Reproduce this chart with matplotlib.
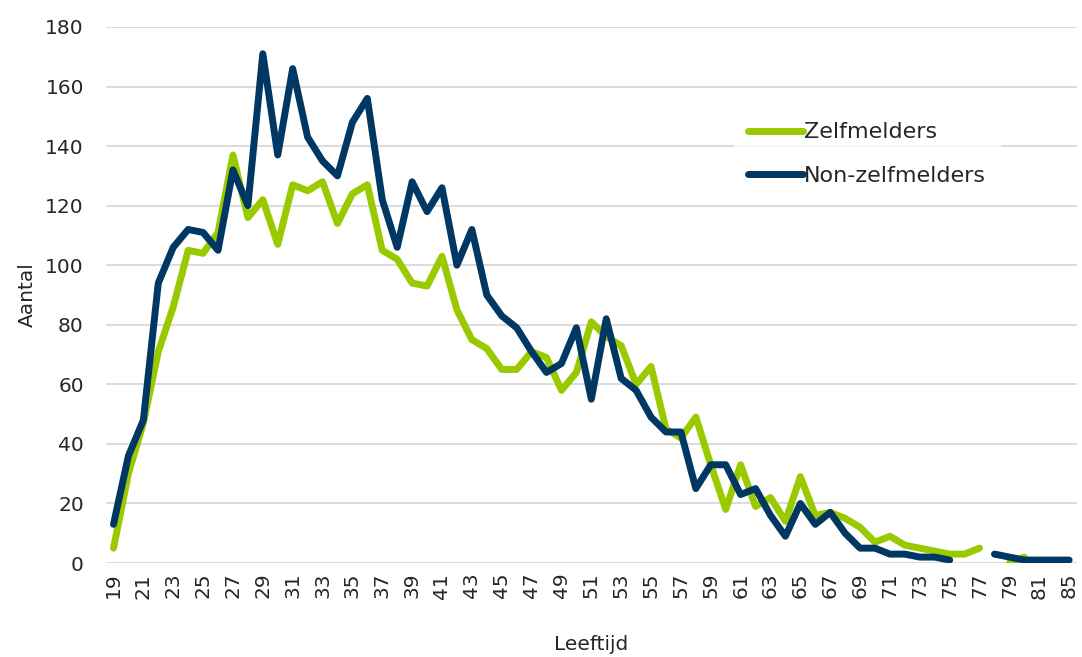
import numpy as np
import matplotlib
matplotlib.use("Agg")
import matplotlib.pyplot as plt

nan = np.nan

# leeftijden (categorie-as), 83 en 84 ontbreken
ages = list(range(19, 83)) + [85]

zelfmelders = [5, 30, 47, 71, 86, 105, 104, 111, 137, 116,
               122, 107, 127, 125, 128, 114, 124, 127, 105, 102,
               94, 93, 103, 85, 75, 72, 65, 65, 71, 69,
               58, 64, 81, 76, 73, 60, 66, 45, 42, 49,
               33, 18, 33, 19, 22, 14, 29, 16, 17, 15,
               12, 7, 9, 6, 5, 4, 3, 3, 5, nan,
               0, 2, nan, nan, nan]

non_zelfmelders = [13, 36, 48, 94, 106, 112, 111, 105, 132, 120,
                   171, 137, 166, 143, 135, 130, 148, 156, 122, 106,
                   128, 118, 126, 100, 112, 90, 83, 79, 71, 64,
                   67, 79, 55, 82, 62, 58, 49, 44, 44, 25,
                   33, 33, 23, 25, 16, 9, 20, 13, 17, 10,
                   5, 5, 3, 3, 2, 2, 1, nan, nan, 3,
                   2, 1, 1, 1, 1]

green = "#99CA00"
blue = "#003863"
txt = "#262626"
fs = 14.5

fig = plt.figure(figsize=(10.82, 6.57), dpi=100)
ax = fig.add_axes([0.098, 0.143, 0.897, 0.816])

x = np.arange(len(ages))
ax.plot(x, zelfmelders, color=green, lw=5, label="Zelfmelders",
        solid_capstyle="round", solid_joinstyle="round", zorder=3)
ax.plot(x, non_zelfmelders, color=blue, lw=5, label="Non-zelfmelders",
        solid_capstyle="round", solid_joinstyle="round", zorder=4)

ax.set_xlim(-0.5, len(ages) - 0.5)
ax.set_ylim(0, 180)
ax.set_yticks(range(0, 181, 20))
ax.set_xticks(x[::2])
ax.set_xticklabels([str(a) for a in ages[::2]], rotation=90)

ax.grid(axis="y", color="#D9D9D9", lw=1.3, zorder=0)
ax.set_axisbelow(True)
for s in ax.spines.values():
    s.set_visible(False)
ax.tick_params(length=0, labelsize=fs, labelcolor=txt)
ax.tick_params(axis="y", pad=16)
ax.tick_params(axis="x", pad=7)

ax.set_ylabel("Aantal", fontsize=fs, color=txt, labelpad=6)
ax.set_xlabel("Leeftijd", fontsize=fs, color=txt, labelpad=26)

leg = ax.legend(loc="center", bbox_to_anchor=(0.784, 0.763), frameon=True,
                fontsize=16, handlelength=2.5, handletextpad=0.05,
                labelspacing=1.05, borderpad=0.6, fancybox=False)
leg.get_frame().set_facecolor("white")
leg.get_frame().set_edgecolor("white")
for t in leg.get_texts():
    t.set_color(txt)

fig.savefig("out.png", dpi=100)
